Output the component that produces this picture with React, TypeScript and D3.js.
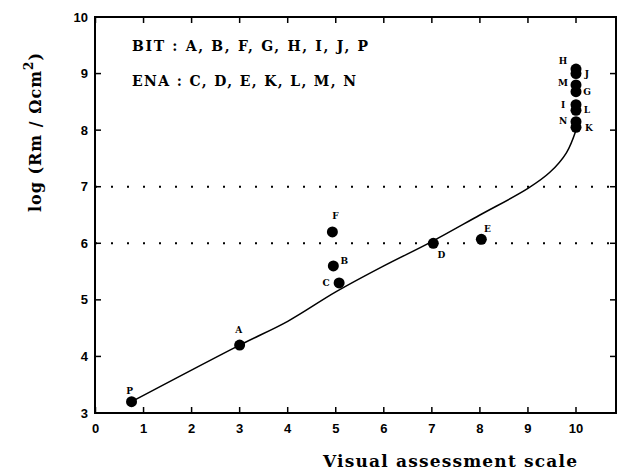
import React from 'react';
import * as d3 from 'd3';

const pointLabels = ['P', 'A', 'B', 'C', 'F', 'D', 'E', 'H', 'J', 'M', 'G', 'I', 'L', 'N', 'K'];
const pointX = [0.75, 3.0, 4.95, 5.07, 4.93, 7.03, 8.03, 10, 10, 10, 10, 10, 10, 10, 10];
const pointY = [3.2, 4.2, 5.6, 5.3, 6.2, 6.0, 6.07, 9.08, 9.0, 8.8, 8.68, 8.45, 8.35, 8.15, 8.05];

const curveX = [0.75, 3, 4, 5, 6, 7, 8, 9, 9.45, 9.8, 10];
const curveY = [3.2, 4.2, 4.62, 5.14, 5.6, 6.03, 6.5, 6.97, 7.25, 7.6, 8.0];

const xTicks = [0, 1, 2, 3, 4, 5, 6, 7, 8, 9, 10];
const yTicks = [3, 4, 5, 6, 7, 8, 9, 10];
const refLines = [6, 7];

const legendLines = ['BIT : A, B, F, G, H, I, J, P', 'ENA : C, D, E, K, L, M, N'];
const xTitle = 'Visual assessment scale';

// label placement offsets (px) relative to each point
const labelOffset: Record<string, [number, number]> = {
  P: [-2, -11], A: [-1, -15], B: [11, -5], C: [-13, 0], F: [3, -16], D: [8, 12], E: [6, -10],
  H: [-13, -8], J: [11, 0], M: [-13, -2], G: [11, 0], I: [-13, 0], L: [11, 0], N: [-13, -1], K: [13, 1],
};

export default function App() {
  const W = 621, H = 470;
  const x = d3.scaleLinear().domain([0, 10]).range([95.5, 576]);
  const y = d3.scaleLinear().domain([3, 10]).range([413, 17]);
  const left = 95, right = 616, top = y(10), bottom = y(3);
  const line = d3.line<number>().x((_, i) => x(curveX[i])).y((_, i) => y(curveY[i])).curve(d3.curveCatmullRom.alpha(0.5));
  const serif = '"DejaVu Serif", serif';
  const sans = '"Liberation Sans", Arial, sans-serif';
  return (
    <svg width={W} height={H} style={{ position: 'absolute', left: 0, top: 0, background: '#fff' }}>
      {refLines.map(v => (
        <line key={v} x1={left} x2={right} y1={y(v)} y2={y(v)} stroke="#000" strokeWidth={2} strokeDasharray="2 14" />
      ))}
      <rect x={left} y={top} width={right - left} height={bottom - top} fill="none" stroke="#000" strokeWidth={2} />
      {xTicks.map(t => (
        <g key={'x' + t}>
          <line x1={x(t)} x2={x(t)} y1={bottom} y2={bottom - 6} stroke="#000" strokeWidth={1.5} />
          <line x1={x(t)} x2={x(t)} y1={top} y2={top + 6} stroke="#000" strokeWidth={1.5} />
          <text x={x(t)} y={433} textAnchor="middle" fontFamily={sans} fontWeight="bold" fontSize={13}>{t}</text>
        </g>
      ))}
      {yTicks.map(t => (
        <g key={'y' + t}>
          <line x1={left} x2={left + 6} y1={y(t)} y2={y(t)} stroke="#000" strokeWidth={1.5} />
          <line x1={right} x2={right - 6} y1={y(t)} y2={y(t)} stroke="#000" strokeWidth={1.5} />
          <text x={88} y={y(t)} dy="0.35em" textAnchor="end" fontFamily={sans} fontWeight="bold" fontSize={13}>{t}</text>
        </g>
      ))}
      <path d={line(curveX) || ''} fill="none" stroke="#000" strokeWidth={1.5} />
      {pointLabels.map((l, i) => (
        <circle key={'c' + l} cx={x(pointX[i])} cy={y(pointY[i])} r={5.5} fill="#000" />
      ))}
      {pointLabels.map((l, i) => (
        <text key={'t' + l} x={x(pointX[i]) + labelOffset[l][0]} y={y(pointY[i]) + labelOffset[l][1]}
          dy="0.35em" textAnchor="middle" fontFamily={serif} fontWeight="bold" fontSize={9}>{l}</text>
      ))}
      <text x={132} y={51} fontFamily={serif} fontWeight="bold" fontSize={14} textLength={236} lengthAdjust="spacing">{legendLines[0]}</text>
      <text x={132} y={86} fontFamily={serif} fontWeight="bold" fontSize={14} textLength={224} lengthAdjust="spacing">{legendLines[1]}</text>
      <text transform="translate(41,132) rotate(-90)" textAnchor="middle" fontFamily={serif} fontWeight="bold" fontSize={16} letterSpacing={1}>
        log (Rm  /  Ωcm<tspan dy="-8" fontSize={12}>2</tspan><tspan dy="8">)</tspan>
      </text>
      <text x={323} y={467} fontFamily={serif} fontWeight="bold" fontSize={17} textLength={254} lengthAdjust="spacing">{xTitle}</text>
    </svg>
  );
}
